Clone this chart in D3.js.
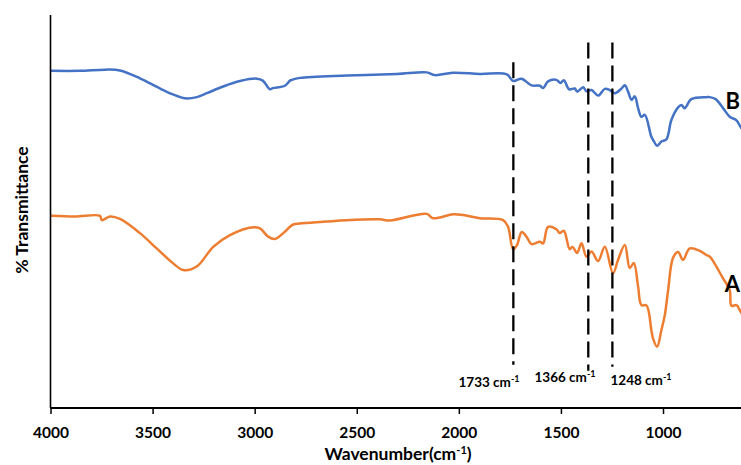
<!DOCTYPE html>
<html>
<head>
<meta charset="utf-8">
<script src="https://cdn.jsdelivr.net/npm/d3@7"></script>
<style>
  html, body { margin: 0; padding: 0; background: #fff; }
  svg { display: block; }
  text { font-family: Lato, "Open Sans", sans-serif; font-weight: bold; fill: #000; }
</style>
</head>
<body>
<svg id="chart" width="741" height="465"></svg>
<script>
// Wavenumber (cm-1) and % transmittance (arbitrary, offset) for spectrum B
const wavenumberB = [3998,3856,3733,3660,3562,3464,3400,3341,3283,3234,3155,3072,2989,2960,2925,2911,2852,2827,2818,2778,2548,2303,2157,2117,2029,1897,1765,1734,1693,1644,1603,1587,1563,1522,1502,1486,1460,1432,1421,1391,1375,1350,1318,1285,1261,1236,1203,1187,1171,1154,1138,1122,1106,1089,1057,1045,1029,1008,983,959,926,910,894,861,787,771,742,706,673,640,619,598];
const transmittanceB = [85.8,85.8,86.1,85.9,83.9,81.3,79.8,78.8,79.1,80.1,81.8,83.2,83.8,83.3,81.1,81.4,82.0,83.3,83.5,84.0,84.6,85.0,85.4,84.7,85.3,85.0,84.9,83.2,83.8,82.1,82.0,81.4,83.1,83.5,82.7,83.4,81.1,81.3,80.5,81.6,80.6,80.9,79.5,81.2,80.9,80.1,81.3,82.1,80.5,78.4,79.3,76.3,74.1,74.6,69.0,67.9,66.7,67.8,68.4,73.3,76.5,77.1,76.3,78.6,79.1,79.1,78.6,76.3,74.1,73.2,71.4,70.0];

// Spectrum A
const wavenumberA = [3998,3880,3758,3749,3709,3660,3562,3480,3399,3350,3284,3203,3121,3007,2974,2934,2901,2860,2827,2811,2713,2550,2387,2338,2158,2126,2028,1979,1897,1783,1759,1734,1715,1692,1669,1644,1603,1587,1563,1522,1506,1486,1457,1443,1421,1399,1375,1350,1318,1285,1245,1220,1187,1163,1143,1122,1106,1081,1057,1049,1029,1008,991,975,951,926,902,869,820,787,771,706,673,665,640,619,598];
const transmittanceA = [48.9,48.7,48.9,47.8,48.7,48.1,44.5,40.6,36.8,35.1,36.0,41.0,44.0,46.0,45.7,43.6,43.0,44.5,46.1,46.7,47.2,47.8,48.0,47.7,49.4,48.3,49.3,49.1,48.3,47.8,46.1,40.4,41.5,44.8,43.6,41.7,42.3,41.9,46.1,45.5,44.5,45.1,40.4,41.0,39.5,41.9,38.5,39.8,37.4,41.0,34.3,37.7,41.5,35.6,36.9,30.9,26.2,26.1,19.8,17.7,15.6,19.8,23.7,30.0,38.2,39.7,37.7,40.6,40.0,38.9,38.5,33.0,30.0,26.0,26.2,24.4,22.9];

const xTicks = [4000,3500,3000,2500,2000,1500,1000];
const markers = [1733,1366,1248];
const markerLabels = ["1733 cm", "1366 cm", "1248 cm"];
const markerTop = [88, 93, 93];
const markerBottom = [11, 9.5, 10.5];
const seriesNames = ["B", "A"];
const seriesColors = ["#4472C4", "#ED7D31"];

(function () {
const svg = d3.select("#chart");
const mLeft = 50.5, mRight = 741, mTop = 15, mBottom = 408;

const x = d3.scaleLinear().domain([4000, 618]).range([mLeft, mRight]);
const y = d3.scaleLinear().domain([0, 100]).range([mBottom, mTop]);

svg.append("defs").append("clipPath").attr("id", "plotclip")
  .append("rect").attr("x", mLeft).attr("y", 0).attr("width", mRight - mLeft).attr("height", mBottom);

const line = d3.line().x(d => x(d[0])).y(d => y(d[1])).curve(d3.curveCatmullRom.alpha(0.5));

const g = svg.append("g").attr("clip-path", "url(#plotclip)");

const dataB = wavenumberB.map((w, i) => [w, transmittanceB[i]]);
const dataA = wavenumberA.map((w, i) => [w, transmittanceA[i]]);

// dashed marker lines
markers.forEach((m, i) => {
  svg.append("line")
    .attr("x1", x(m)).attr("x2", x(m))
    .attr("y1", y(markerTop[i])).attr("y2", y(markerBottom[i]))
    .attr("stroke", "#000").attr("stroke-width", 2.3)
    .attr("stroke-dasharray", "16,7");
});

g.append("path").datum(dataB)
  .attr("fill", "none").attr("stroke", seriesColors[0]).attr("stroke-width", 2.5)
  .attr("stroke-linejoin", "round").attr("d", line);
g.append("path").datum(dataA)
  .attr("fill", "none").attr("stroke", seriesColors[1]).attr("stroke-width", 2.5)
  .attr("stroke-linejoin", "round").attr("d", line);

// Axes
const xAxis = d3.axisBottom(x).tickValues(xTicks).tickSize(6).tickFormat(d3.format("d"));
const gx = svg.append("g").attr("transform", `translate(0,${mBottom})`).call(xAxis);
gx.select(".domain").attr("stroke", "#000").attr("stroke-width", 2).attr("d", `M${mLeft},0H${mRight}`);
gx.selectAll(".tick line").attr("stroke", "#000").attr("stroke-width", 1.5);
gx.selectAll(".tick text").attr("dy", null).attr("y", 30).style("font-size", "15.5px").style("font-family", "Lato, sans-serif").style("font-weight", "bold");

svg.append("line").attr("x1", mLeft).attr("x2", mLeft).attr("y1", mTop).attr("y2", mBottom)
  .attr("stroke", "#000").attr("stroke-width", 1.6);

// Axis titles
const xt = svg.append("text").attr("x", 398).attr("y", 460).attr("text-anchor", "middle").style("font-size", "17.5px");
xt.append("tspan").text("Wavenumber(cm");
xt.append("tspan").attr("baseline-shift", "super").style("font-size", "11px").text("-1");
xt.append("tspan").text(")");

svg.append("text").attr("transform", "translate(28,210) rotate(-90)")
  .attr("text-anchor", "middle").style("font-size", "17.5px").text("% Transmittance");

// Marker labels
const labelX = [489, 565, 641];
const labelY = [387, 382, 385];
markers.forEach((m, i) => {
  const t = svg.append("text").attr("x", labelX[i]).attr("y", labelY[i]).attr("text-anchor", "middle").style("font-size", "13.5px");
  t.append("tspan").text(markerLabels[i]);
  t.append("tspan").attr("baseline-shift", "super").style("font-size", "9px").text("-1");
});

// Series labels (kept inside the picture)
svg.append("text").attr("x", 740).attr("y", 109).attr("text-anchor", "end").style("font-size", "22px").text(seriesNames[0]);
svg.append("text").attr("x", 740).attr("y", 292).attr("text-anchor", "end").style("font-size", "22px").text(seriesNames[1]);
})();
</script>
</body>
</html>
